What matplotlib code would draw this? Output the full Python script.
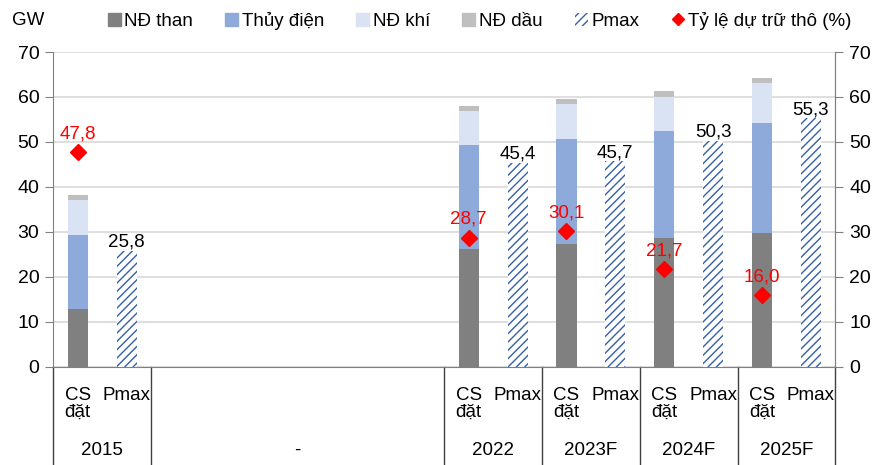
import numpy as np
import matplotlib.pyplot as plt
from matplotlib.lines import Line2D
from matplotlib.patches import Patch

plt.rcParams['font.family'] = ['Liberation Sans', 'DejaVu Sans']
plt.rcParams['hatch.linewidth'] = 1.0

# Nhóm năm và số ô trên trục X cho mỗi nhóm
groups = ['2015', '-', '2022', '2023F', '2024F', '2025F']
group_slots = [2, 6, 2, 2, 2, 2]

# Công suất đặt (GW) theo nguồn, cho các năm có dữ liệu
years = ['2015', '2022', '2023F', '2024F', '2025F']
nd_than = [12.9, 26.2, 27.4, 28.7, 29.8]
thuy_dien = [16.4, 23.1, 23.3, 23.7, 24.4]
nd_khi = [7.8, 7.6, 7.7, 7.7, 8.9]
nd_dau = [1.1, 1.2, 1.2, 1.2, 1.2]
pmax = [25.8, 45.4, 45.7, 50.3, 55.3]
du_tru = [47.8, 28.7, 30.1, 21.7, 16.0]

sub_labels = ['CS\nđặt', 'Pmax']

c_than = '#808080'
c_thuy = '#8eaadb'
c_khi = '#dae3f3'
c_dau = '#bfbfbf'
c_pmax = '#3460a8'
c_grid = '#d9d9d9'
c_axis = '#808080'

# vị trí ô: mỗi nhóm bắt đầu tại tổng số ô trước đó
starts = np.cumsum([0] + group_slots[:-1])
year_start = [starts[groups.index(y)] for y in years]
x_cs = np.array(year_start, dtype=float)
x_pm = x_cs + 1

fig = plt.figure(figsize=(8.8, 4.65), dpi=100)
ax = fig.add_axes([0.0606, 0.2114, 0.8886, 0.6767])

w = 0.41
b1 = np.array(nd_than)
b2 = b1 + np.array(thuy_dien)
b3 = b2 + np.array(nd_khi)
ax.bar(x_cs, nd_than, w, color=c_than, zorder=3)
ax.bar(x_cs, thuy_dien, w, bottom=b1, color=c_thuy, zorder=3)
ax.bar(x_cs, nd_khi, w, bottom=b2, color=c_khi, zorder=3)
ax.bar(x_cs, nd_dau, w, bottom=b3, color=c_dau, zorder=3)
ax.bar(x_pm, pmax, w, color='white', edgecolor=c_pmax, hatch='////',
       linewidth=0, zorder=3)

ax.plot(x_cs, du_tru, linestyle='none', marker='D', markersize=8,
        color='#ff0000', zorder=5)

def fmt(v):
    return f'{v:.1f}'.replace('.', ',')

for x, v in zip(x_pm, pmax):
    ax.annotate(fmt(v), (x, v), xytext=(0, 0), textcoords='offset points',
                ha='center', va='bottom', fontsize=13.5, color='black', zorder=6)
for x, v in zip(x_cs, du_tru):
    ax.annotate(fmt(v), (x, v), xytext=(0, 7), textcoords='offset points',
                ha='center', va='bottom', fontsize=13.5, color='#ff0000', zorder=6)

total_slots = sum(group_slots)
ax.set_xlim(-0.5, total_slots - 0.5)
ax.set_ylim(0, 70)
ax.set_yticks(np.arange(0, 71, 10))
ax.set_xticks([])
ax.yaxis.grid(True, color=c_grid, linewidth=1.2, zorder=0)
ax.set_axisbelow(True)

ax.spines['top'].set_visible(False)
for s in ['left', 'right', 'bottom']:
    ax.spines[s].set_color(c_axis)
ax.tick_params(axis='y', direction='out', length=6, color=c_axis,
               labelsize=14, pad=4)

ax2 = ax.twinx()
ax2.set_ylim(0, 70)
ax2.set_yticks(np.arange(0, 71, 10))
for s in ['top', 'left', 'bottom']:
    ax2.spines[s].set_visible(False)
ax2.spines['right'].set_color(c_axis)
ax2.tick_params(axis='y', direction='out', length=6, color=c_axis,
                labelsize=14, pad=4)

# nhãn trục X hai tầng và các đường phân nhóm
trans = ax.get_xaxis_transform()
for g, s, n in zip(groups, starts, group_slots):
    ax.text(s + (n - 1) / 2, -0.265, g, transform=trans, ha='center',
            va='center', fontsize=13.5)
for s in year_start:
    for i, lab in enumerate(sub_labels):
        ax.text(s + i, -0.065, lab, transform=trans, ha='center', va='top',
                fontsize=13.5, linespacing=1.0)
edges = list(starts - 0.5) + [total_slots - 0.5]
for e in edges:
    ax.plot([e, e], [0, -0.31], transform=trans, color='#404040',
            linewidth=1, clip_on=False)

fig.text(0.014, 0.955, 'GW', fontsize=13.5, va='center', ha='left')

handles = [
    Patch(color=c_than, label='NĐ than'),
    Patch(color=c_thuy, label='Thủy điện'),
    Patch(color=c_khi, label='NĐ khí'),
    Patch(color=c_dau, label='NĐ dầu'),
    Patch(facecolor='white', edgecolor=c_pmax, hatch='////', linewidth=0,
          label='Pmax'),
    Line2D([], [], linestyle='none', marker='D', markersize=6,
           color='#ff0000', label='Tỷ lệ dự trữ thô (%)'),
]
fig.legend(handles=handles, loc='center', bbox_to_anchor=(0.545, 0.955),
           ncol=6, frameon=False, fontsize=13.5, handlelength=0.7,
           handleheight=0.7, handletextpad=0.2, columnspacing=1.7)

fig.savefig('out.png', dpi=100)
